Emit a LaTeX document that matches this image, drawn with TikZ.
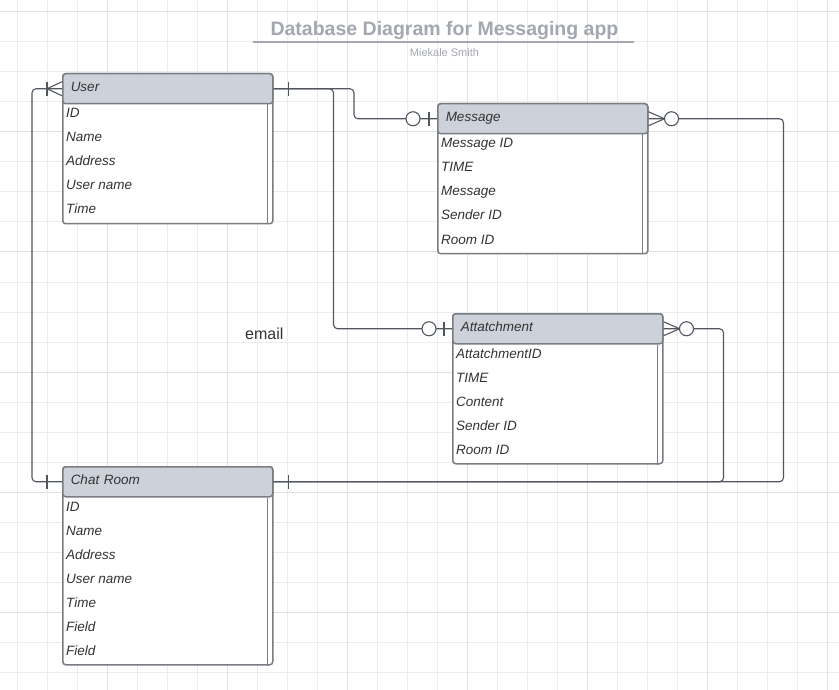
\documentclass[tikz,border=0pt]{standalone}
\usepackage{fontspec}
\setmainfont{Liberation Sans}
\usetikzlibrary{calc,positioning}

\definecolor{headgray}{RGB}{205,210,218}
\definecolor{edgegray}{RGB}{120,124,131}
\definecolor{wiregray}{RGB}{82,87,95}
\definecolor{textgray}{RGB}{51,51,51}
\definecolor{titlegray}{RGB}{163,167,175}
\definecolor{gridminor}{RGB}{236,236,236}
\definecolor{gridmajor}{RGB}{225,225,225}

\begin{document}
\begin{tikzpicture}[x=1pt, y=-1pt,
    tblbox/.style={draw=edgegray, line width=1.5pt, fill=white, rounded corners=3pt, minimum width=210pt, inner sep=0pt, anchor=north west},
    tblhead/.style={draw=edgegray, line width=1.5pt, fill=headgray, rounded corners=3pt, minimum height=30pt, text width=194pt, inner xsep=8pt, inner ysep=0pt, align=left, text height=9.5pt, text depth=4pt, anchor=north west, text=textgray, font=\fontsize{13.5}{16}\selectfont\itshape},
    stripe/.style={draw=edgegray, line width=1.2pt},
    field/.style={inner sep=0pt, anchor=base west, text=textgray, font=\fontsize{13.5}{16}\selectfont\itshape},
    wire/.style={draw=wiregray, line width=1.1pt},
    route/.style={wire, rounded corners=4pt},
    zerocirc/.style={circle, draw=wiregray, line width=1.1pt, fill=white, minimum size=14pt, inner sep=0pt}]

    \fill[white] (0,0) rectangle (839,690);
    \useasboundingbox (0,0) rectangle (839,690);

    % grid
    \foreach \gx in {17,47,...,827} \draw[gridminor, line width=1pt] (\gx,0) -- (\gx,690);
    \foreach \gy in {12,42,...,672} \draw[gridminor, line width=1pt] (0,\gy) -- (839,\gy);
    \foreach \gx in {107,227,...,827} \draw[gridmajor, line width=1pt] (\gx,0) -- (\gx,690);
    \foreach \gy in {12,132,...,612} \draw[gridmajor, line width=1pt] (0,\gy) -- (839,\gy);

    % title
    \node[anchor=base, text=titlegray, font=\fontsize{19.5}{22}\selectfont\bfseries] (title) at (444.5,36) {Database Diagram for Messaging app};
    \draw[titlegray, line width=1.6pt] (253,42) -- (634,42);
    \node[anchor=base, text=titlegray, font=\fontsize{11}{13}\selectfont] (author) at (444.5,57) {Miekale Smith};
    \node[anchor=base west, inner sep=0pt, text=textgray, font=\fontsize{16}{19}\selectfont] (email) at (245,339) {email};

    % tables
    \node[tblbox, minimum height=150pt] (userbox) at (62,73) {};
    \node[tblhead] (user) at (62,73) {User};
    \draw[stripe] ([xshift=-6pt]user.south east) -- ([xshift=-6pt]userbox.south east);
    \node[field] (user-id) at ($(user.south west) + (4,13.5)$) {ID};
    \node[field] (user-name) at ([yshift=-24pt]user-id.base west) {Name};
    \node[field] (user-addr) at ([yshift=-24pt]user-name.base west) {Address};
    \node[field] (user-uname) at ([yshift=-24pt]user-addr.base west) {User name};
    \node[field] (user-time) at ([yshift=-24pt]user-uname.base west) {Time};

    \node[tblbox, minimum height=150pt] (messagebox) at (437,103) {};
    \node[tblhead] (message) at (437,103) {Message};
    \draw[stripe] ([xshift=-6pt]message.south east) -- ([xshift=-6pt]messagebox.south east);
    \node[field] (msg-id) at ($(message.south west) + (4,13.5)$) {Message ID};
    \node[field] (msg-time) at ([yshift=-24pt]msg-id.base west) {TIME};
    \node[field] (msg-text) at ([yshift=-24pt]msg-time.base west) {Message};
    \node[field] (msg-sender) at ([yshift=-24pt]msg-text.base west) {Sender ID};
    \node[field] (msg-room) at ([yshift=-24pt]msg-sender.base west) {Room ID};

    \node[tblbox, minimum height=150pt] (attbox) at (452,313) {};
    \node[tblhead] (att) at (452,313) {Attatchment};
    \draw[stripe] ([xshift=-6pt]att.south east) -- ([xshift=-6pt]attbox.south east);
    \node[field] (att-id) at ($(att.south west) + (4,13.5)$) {AttatchmentID};
    \node[field] (att-time) at ([yshift=-24pt]att-id.base west) {TIME};
    \node[field] (att-content) at ([yshift=-24pt]att-time.base west) {Content};
    \node[field] (att-sender) at ([yshift=-24pt]att-content.base west) {Sender ID};
    \node[field] (att-room) at ([yshift=-24pt]att-sender.base west) {Room ID};

    \node[tblbox, minimum height=198pt] (chatbox) at (62,466) {};
    \node[tblhead] (chat) at (62,466) {Chat Room};
    \draw[stripe] ([xshift=-6pt]chat.south east) -- ([xshift=-6pt]chatbox.south east);
    \node[field] (chat-id) at ($(chat.south west) + (4,13.5)$) {ID};
    \node[field] (chat-name) at ([yshift=-24pt]chat-id.base west) {Name};
    \node[field] (chat-addr) at ([yshift=-24pt]chat-name.base west) {Address};
    \node[field] (chat-uname) at ([yshift=-24pt]chat-addr.base west) {User name};
    \node[field] (chat-time) at ([yshift=-24pt]chat-uname.base west) {Time};
    \node[field] (chat-field1) at ([yshift=-24pt]chat-time.base west) {Field};
    \node[field] (chat-field2) at ([yshift=-24pt]chat-field1.base west) {Field};

    % relations
    \coordinate (split) at ([xshift=60pt]user.east);
    \draw[route] (user.west) -| ([xshift=-30pt]chat.west) -- (chat.west);
    \draw[route] (user.east) -| ([xshift=-83pt]message.west) -- (message.west);
    \draw[route] (user.east) -| (split |- att.west) -- (att.west);
    \draw[route] (message.east) -| ([xshift=510pt]chat.east) -- (chat.east);
    \draw[route] (att.east) -| ([xshift=450pt]chat.east) -- (chat.east);

    % ends
    \draw[wire] ([yshift=7pt]user.west) -- ([xshift=-15pt]user.west) -- ([yshift=-7pt]user.west);
    \draw[wire] ([xshift=-15pt,yshift=7pt]user.west) -- ([xshift=-15pt,yshift=-7pt]user.west);
    \draw[wire] ([xshift=15pt,yshift=7pt]user.east) -- ([xshift=15pt,yshift=-7pt]user.east);
    \draw[wire] ([xshift=-15pt,yshift=7pt]chat.west) -- ([xshift=-15pt,yshift=-7pt]chat.west);
    \draw[wire] ([xshift=15pt,yshift=7pt]chat.east) -- ([xshift=15pt,yshift=-7pt]chat.east);

    \draw[wire] ([xshift=-8pt,yshift=7pt]message.west) -- ([xshift=-8pt,yshift=-7pt]message.west);
    \node[zerocirc] (msgzero) at ([xshift=-24pt]message.west) {};
    \draw[wire] ([xshift=-8pt,yshift=7pt]att.west) -- ([xshift=-8pt,yshift=-7pt]att.west);
    \node[zerocirc] (attzero) at ([xshift=-23pt]att.west) {};

    \draw[wire] ([yshift=7pt]message.east) -- ([xshift=16pt]message.east) -- ([yshift=-7pt]message.east);
    \node[zerocirc] (msgmany) at ([xshift=23pt]message.east) {};
    \draw[wire] ([yshift=7pt]att.east) -- ([xshift=16pt]att.east) -- ([yshift=-7pt]att.east);
    \node[zerocirc] (attmany) at ([xshift=23pt]att.east) {};
\end{tikzpicture}
\end{document}
